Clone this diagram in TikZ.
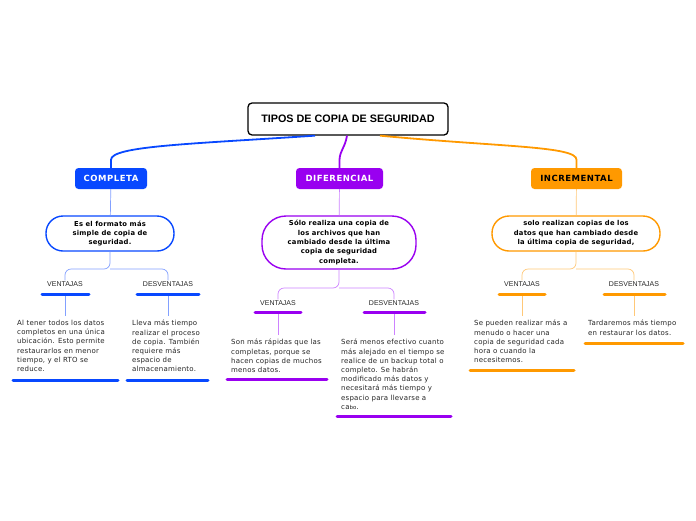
\documentclass[tikz,border=0pt]{standalone}
\usepackage{fontspec}
\setmainfont{DejaVu Sans}
\newfontfamily\arialf{Liberation Sans}
\newfontfamily\catf[LetterSpace=6]{DejaVu Sans}
\newfontfamily\subf[LetterSpace=3]{DejaVu Sans}
\newfontfamily\bodyf[LetterSpace=3]{DejaVu Sans}
\definecolor{cblue}{RGB}{8,72,255}
\definecolor{cpurple}{RGB}{153,0,240}
\definecolor{corange}{RGB}{255,153,0}
\definecolor{lblue}{RGB}{130,160,255}
\definecolor{lpurple}{RGB}{205,130,255}
\definecolor{lorange}{RGB}{255,200,120}
\tikzset{
  rootbox/.style={draw=black, line width=1.3pt, rounded corners=4pt, fill=white,
    minimum width=200pt, minimum height=32pt, inner sep=0pt,
    font=\arialf\fontsize{10.8}{12}\selectfont\bfseries},
  catbox/.style={rounded corners=3.5pt, minimum height=21pt, inner sep=0pt,
    font=\catf\fontsize{8.5}{9}\selectfont\bfseries},
  subbox/.style={draw, line width=1.4pt, fill=white, align=center, inner sep=0pt,
    font=\subf\fontsize{6.8}{9.4}\selectfont\bfseries},
  lab/.style={inner sep=1pt, font=\arialf\fontsize{7}{8}\selectfont, text=black!85},
  body/.style={anchor=north west, inner sep=0pt, align=left,
    font=\bodyf\fontsize{7}{9.2}\selectfont, text=black!85},
  bar/.style={line width=3pt, line cap=round},
  thinline/.style={line width=0.7pt},
  mainline/.style={line width=1.8pt},
}
\begin{document}
\begin{tikzpicture}[x=1pt,y=-1pt]
\useasboundingbox (0,0) rectangle (696,520);

% root
\node[rootbox] (root) at (348,119) {TIPOS DE COPIA DE SEGURIDAD};

% categories
\node[catbox, fill=cblue, text=white, minimum width=72pt] (c1) at (111,178.5) {COMPLETA};
\node[catbox, fill=cpurple, text=white, minimum width=87pt] (c2) at (339.5,178.5) {DIFERENCIAL};
\node[catbox, fill=corange, text=black, minimum width=91pt] (c3) at (576.5,178.5) {INCREMENTAL};

% main connectors
\draw[mainline, cblue] ([xshift=-33pt]root.south) .. controls (190,144) and (111,146) .. ([yshift=8pt]c1.north) -- (c1.north);
\draw[mainline, cpurple] ([xshift=-1pt]root.south) .. controls (345,148) and (340,150) .. ([yshift=8pt]c2.north) -- (c2.north);
\draw[mainline, corange] ([xshift=32pt]root.south) .. controls (500,147) and (577,146) .. ([yshift=8pt]c3.north) -- (c3.north);

% sub boxes
\node[subbox, draw=cblue, minimum width=128pt, minimum height=35pt, rounded corners=17pt] (s1) at (110,233.5)
  {Es el formato más\\simple de copia de\\seguridad.};
\node[subbox, draw=cpurple, minimum width=154pt, minimum height=53pt, rounded corners=24pt] (s2) at (339,242.5)
  {Sólo realiza una copia de\\los archivos que han\\cambiado desde la última\\copia de seguridad\\completa.};
\node[subbox, draw=corange, minimum width=168pt, minimum height=35pt, rounded corners=17pt] (s3) at (576,233.5)
  {solo realizan copias de los\\datos que han cambiado desde\\la última copia de seguridad,};

\draw[thinline, lblue] (c1) -- (s1);
\draw[thinline, lpurple] (c2) -- (s2);
\draw[thinline, lorange] (c3) -- (s3);

% labels
\node[lab] (v1) at (65,284) {VENTAJAS};
\node[lab] (d1) at (168,284) {DESVENTAJAS};
\node[lab] (v2) at (278,303) {VENTAJAS};
\node[lab] (d2) at (394,303) {DESVENTAJAS};
\node[lab] (v3) at (522,284) {VENTAJAS};
\node[lab] (d3) at (634,284) {DESVENTAJAS};

% branches
\coordinate (j1) at (110,269);
\coordinate (j2) at (339,288);
\coordinate (j3) at (576,269);
\draw[thinline, lblue, rounded corners=6pt] (s1.south) -- (j1) -| (v1.north);
\draw[thinline, lblue, rounded corners=6pt] (j1) -| (d1.north);
\draw[thinline, lpurple, rounded corners=6pt] (s2.south) -- (j2) -| (v2.north);
\draw[thinline, lpurple, rounded corners=6pt] (j2) -| (d2.north);
\draw[thinline, lorange, rounded corners=6pt] (s3.south) -- (j3) -| (v3.north);
\draw[thinline, lorange, rounded corners=6pt] (j3) -| (d3.north);

% label bars
\draw[bar, cblue] (42,294) -- (89,294);
\draw[bar, cblue] (137,294) -- (199,294);
\draw[bar, cpurple] (255,312) -- (301,312);
\draw[bar, cpurple] (364,312) -- (425,312);
\draw[bar, corange] (499,294) -- (545,294);
\draw[bar, corange] (604,294) -- (665,294);

% stems to texts
\coordinate (a1) at (65,296); \coordinate (b1) at (65,316);
\coordinate (a2) at (168,296); \coordinate (b2) at (168,316);
\coordinate (a3) at (278,314); \coordinate (b3) at (278,335);
\coordinate (a4) at (394,314); \coordinate (b4) at (394,335);
\coordinate (a5) at (522,296); \coordinate (b5) at (522,316);
\coordinate (a6) at (634,296); \coordinate (b6) at (634,316);
\draw[thinline, lblue] (a1) -- (b1);
\draw[thinline, lblue] (a2) -- (b2);
\draw[thinline, lpurple] (a3) -- (b3);
\draw[thinline, lpurple] (a4) -- (b4);
\draw[thinline, lorange] (a5) -- (b5);
\draw[thinline, lorange] (a6) -- (b6);

% texts
\node[body] (t1) at (17,320) {Al tener todos los datos\\completos en una única\\ubicación. Esto permite\\restaurarlos en menor\\tiempo, y el RTO se\\reduce.};
\node[body] (t2) at (132,320) {Lleva más tiempo\\realizar el proceso\\de copia. También\\requiere más\\espacio de\\almacenamiento.};
\node[body] (t3) at (231,339) {Son más rápidas que las\\completas, porque se\\hacen copias de muchos\\menos datos.};
\node[body] (t4) at (341,339) {Será menos efectivo cuanto\\más alejado en el tiempo se\\realice de un backup total o\\completo. Se habrán\\modificado más datos y\\necesitará más tiempo y\\espacio para llevarse a\\ca{\fontsize{5.5}{9.2}\selectfont bo}.};
\node[body] (t5) at (474,320) {Se pueden realizar más a\\menudo o hacer una\\copia de seguridad cada\\hora o cuando la\\necesitemos.};
\node[body] (t6) at (588,320) {Tardaremos más tiempo\\en restaurar los datos.};

% text bars
\draw[bar, cblue] (13,380) -- (118,380);
\draw[bar, cblue] (127,380) -- (208,380);
\draw[bar, cpurple] (227,379) -- (327,379);
\draw[bar, cpurple] (337,416) -- (451,416);
\draw[bar, corange] (470,370) -- (574,370);
\draw[bar, corange] (585,343) -- (683,343);
\end{tikzpicture}
\end{document}
